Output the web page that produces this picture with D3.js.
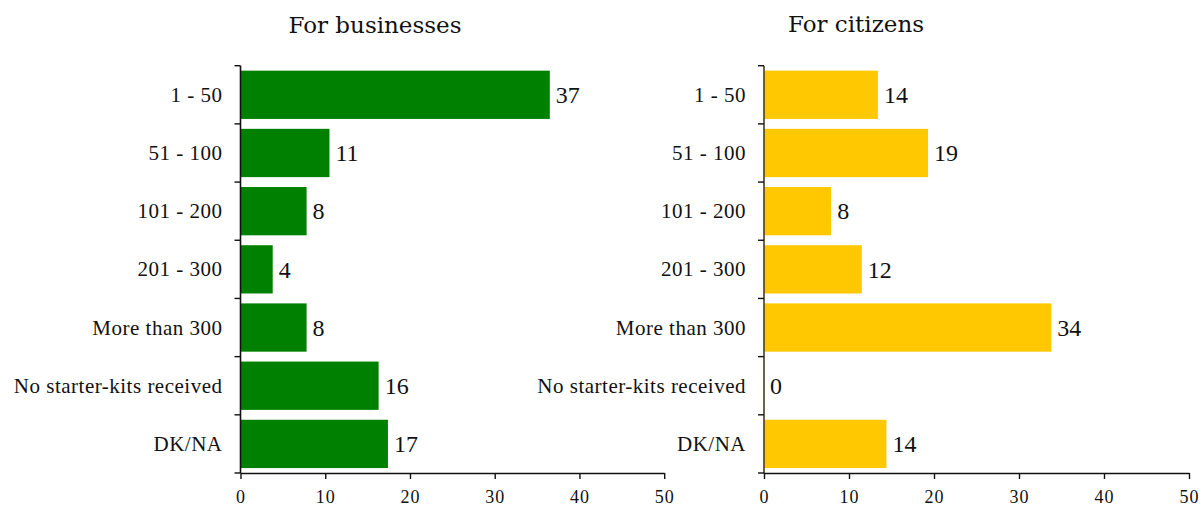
<!DOCTYPE html>
<html>
<head>
<meta charset="utf-8">
<script src="https://cdn.jsdelivr.net/npm/d3@7"></script>
<style>
  body { margin: 0; background: #fff; }
  svg { display: block; }
  text { fill: #111; }
</style>
</head>
<body>
<svg id="chart" width="1203" height="509"></svg>
<script>
const categories = ["1 - 50", "51 - 100", "101 - 200", "201 - 300", "More than 300", "No starter-kits received", "DK/NA"];
const businessValues = [36.5, 10.5, 7.8, 3.8, 7.8, 16.3, 17.4];
const citizenValues = [13.4, 19.3, 7.9, 11.5, 33.8, 0, 14.4];
const businessLabels = ["37", "11", "8", "4", "8", "16", "17"];
const citizenLabels = ["14", "19", "8", "12", "34", "0", "14"];
const xTicks = [0, 10, 20, 30, 40, 50];
const titles = ["For businesses", "For citizens"];

const svg = d3.select("#chart");
const serifA = "'DejaVu Serif', serif";
const serifB = "'Liberation Serif', 'Times New Roman', serif";

const y = d3.scaleBand()
  .domain(categories)
  .range([65.7, 473])
  .paddingInner(0.17)
  .paddingOuter(0.085);

const panels = [
  { title: titles[0], values: businessValues, labels: businessLabels, color: "#008000", x0: 240.5, x1: 664.2, titleX: 375, titleY: 33, axisColor: "#111" },
  { title: titles[1], values: citizenValues, labels: citizenLabels, color: "#FFC800", x0: 764, x1: 1189, titleX: 856, titleY: 32, axisColor: "#4a3b22" }
];

panels.forEach(p => {
  const x = d3.scaleLinear().domain([0, 50]).range([p.x0, p.x1]);
  const g = svg.append("g");

  g.append("text")
    .attr("x", p.titleX)
    .attr("y", p.titleY)
    .attr("text-anchor", "middle")
    .style("font-family", serifA)
    .style("font-size", "23px")
    .text(p.title);

  g.selectAll("rect.bar")
    .data(categories)
    .join("rect")
    .attr("class", "bar")
    .attr("x", x(0))
    .attr("y", d => y(d))
    .attr("width", (d, i) => x(p.values[i]) - x(0))
    .attr("height", y.bandwidth())
    .attr("fill", p.color);

  g.selectAll("text.val")
    .data(categories)
    .join("text")
    .attr("class", "val")
    .attr("x", (d, i) => x(p.values[i]) + 6)
    .attr("y", d => y(d) + y.bandwidth() / 2)
    .attr("dy", "0.34em")
    .style("font-family", serifB)
    .style("font-size", "24px")
    .text((d, i) => p.labels[i]);

  g.selectAll("text.cat")
    .data(categories)
    .join("text")
    .attr("class", "cat")
    .attr("x", x(0) - 18)
    .attr("y", d => y(d) + y.bandwidth() / 2)
    .attr("dy", "0.34em")
    .attr("text-anchor", "end")
    .style("font-family", serifB)
    .style("font-size", "21px")
    .style("letter-spacing", "0.5px")
    .text(d => d);

  const bounds = categories.map(c => y(c) - y.step() * y.paddingInner() / 2);
  bounds.push(473);
  g.append("line")
    .attr("x1", x(0)).attr("x2", x(0))
    .attr("y1", bounds[0]).attr("y2", 473)
    .attr("stroke", p.axisColor).attr("stroke-width", 1.6);
  g.selectAll("line.ytick")
    .data(bounds)
    .join("line")
    .attr("class", "ytick")
    .attr("x1", x(0) - 6).attr("x2", x(0))
    .attr("y1", d => d).attr("y2", d => d)
    .attr("stroke", "#111").attr("stroke-width", 1.4);

  const xAxis = d3.axisBottom(x).tickValues(xTicks).tickSize(6).tickSizeOuter(0);
  const ax = g.append("g").attr("transform", "translate(0,473)").call(xAxis);
  ax.select(".domain").attr("stroke", "#111").attr("stroke-width", 1.4);
  ax.selectAll(".tick line").attr("stroke", "#111").attr("stroke-width", 1.4);
  ax.selectAll(".tick text")
    .attr("y", 17)
    .attr("dy", "0.71em")
    .style("font-size", "18px")
    .style("letter-spacing", "1px")
    .style("font-family", serifB)
    .attr("fill", "#111");
});
</script>
</body>
</html>
